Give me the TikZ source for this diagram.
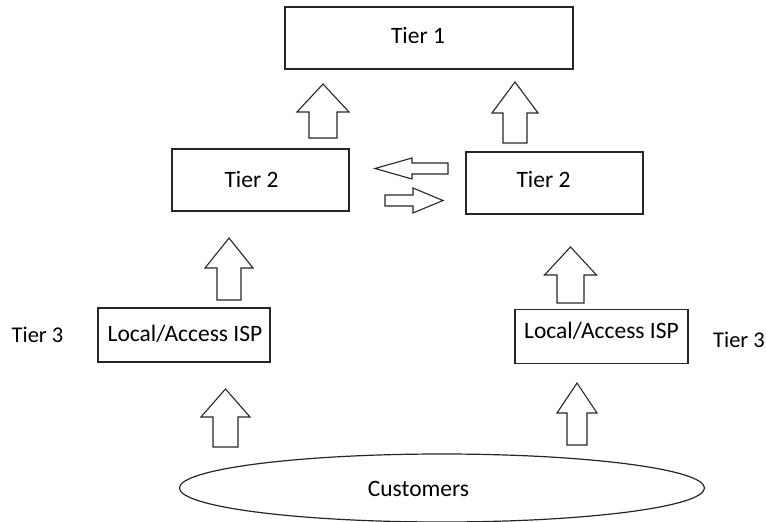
\documentclass[tikz,border=0pt]{standalone}
\usepackage{fontspec}
\setmainfont{Carlito}
\usetikzlibrary{shapes.geometric}

% hollow block arrow pointing up: centre x, tip y, head base y, bottom y, half shaft, half head
\newcommand\blockup[6]{%
  \draw[blockline] (#1,#2) -- (#1+#6,#3) -- (#1+#5,#3) -- (#1+#5,#4)
    -- (#1-#5,#4) -- (#1-#5,#3) -- (#1-#6,#3) -- cycle;}
% hollow block arrow pointing sideways: centre y, tip x, head base x, tail x, half shaft, half head
\newcommand\blockside[6]{%
  \draw[blockline] (#2,#1) -- (#3,#1-#6) -- (#3,#1-#5) -- (#4,#1-#5)
    -- (#4,#1+#5) -- (#3,#1+#5) -- (#3,#1+#6) -- cycle;}
% text moved inside its box: x shift, raise, text
\newcommand\moved[3]{\hspace*{#1}\raisebox{#2}{#3}}

\begin{document}
\begin{tikzpicture}[x=1pt,y=-1pt,
  blockline/.style={draw=black!85,line width=1.1pt,line join=miter},
  txt/.style={font=\fontsize{23.5}{27}\selectfont,text height=15pt,text depth=0pt},
  tierbox/.style={txt,draw=black!85,line width=1.2pt,rectangle,inner sep=0pt},
  plain/.style={txt,inner sep=0pt}]
\useasboundingbox (0,0) rectangle (766,522);

% tiers
\node[tierbox,minimum width=288,minimum height=62] (t1) at (429,38) {\moved{-22pt}{2.5pt}{Tier 1}};
\node[tierbox,minimum width=177,minimum height=62] (t2l) at (260.5,180) {\moved{-18pt}{0.5pt}{Tier 2}};
\node[tierbox,minimum width=177,minimum height=62] (t2r) at (554.5,183) {\moved{-22pt}{3.5pt}{Tier 2}};
\node[tierbox,minimum width=172,minimum height=54] (ispl) at (184,335) {\moved{2pt}{1.5pt}{Local/Access ISP}};
\node[tierbox,minimum width=173,minimum height=54] (ispr) at (601.5,336.5) {\moved{0pt}{6pt}{Local/Access ISP}};
\node[plain,font=\fontsize{22.5}{26}\selectfont] (t3l) at (37.5,334.5) {Tier 3};
\node[plain,font=\fontsize{22.5}{26}\selectfont] (t3r) at (739,340) {Tier 3};

% customers
\node[draw=black!85,line width=1.2pt,ellipse,minimum width=525,minimum height=68,
  inner sep=0pt] (cust) at (442,488) {};
\node[plain] (custlbl) at (418.5,488.5) {Customers};

% upward block arrows
\blockup{323}{84}{112}{138}{14}{26}
\blockup{515}{82}{113}{143}{12}{23}
\blockup{229}{238}{268}{300}{12}{24}
\blockup{570.5}{247}{275}{303}{13.5}{26}
\blockup{225.5}{389}{417}{447}{12.5}{24.5}
\blockup{577}{383}{413}{445}{10}{20}

% sideways block arrows between the tier 2 networks
\blockside{168.5}{375}{412}{448}{5.5}{10.5}
\blockside{200.5}{443}{413}{385}{5.5}{12.5}
\end{tikzpicture}
\end{document}
